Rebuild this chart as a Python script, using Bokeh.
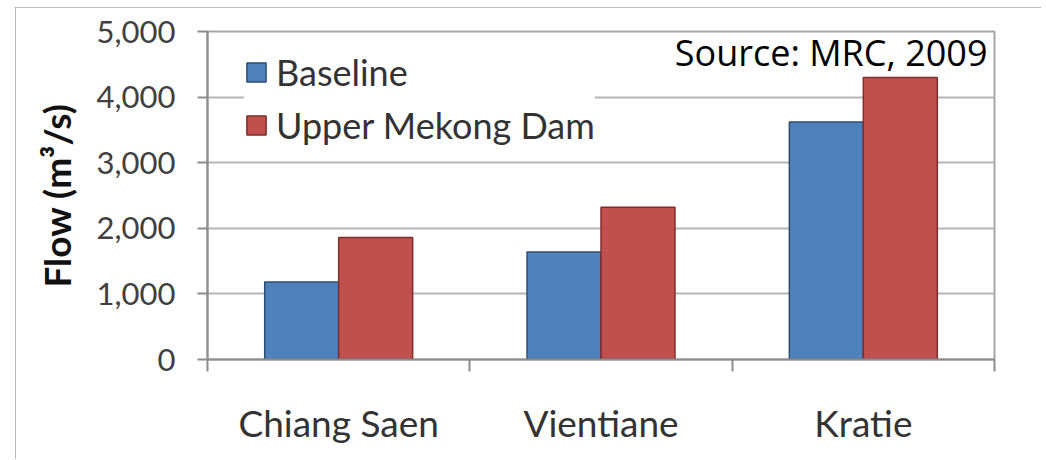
from bokeh.plotting import figure
from bokeh.models import (FactorRange, Range1d, LinearAxis, CategoricalAxis, FixedTicker,
                          NumeralTickFormatter, Legend, LegendItem, Label,
                          ColumnDataSource)
from bokeh.transform import dodge
from bokeh.embed import file_html
from bokeh.resources import INLINE

categories = ["Chiang Saen", "Vientiane", "Kratie"]
baseline = [1180, 1640, 3620]
upper_dam = [1860, 2320, 4300]
y_ticks = [0, 1000, 2000, 3000, 4000, 5000]
series_names = ["Baseline", "Upper Mekong Dam"]
source_note = "Source: MRC, 2009"

src = ColumnDataSource(dict(cat=categories, base=baseline, dam=upper_dam))

p = figure(width=1026, height=452,
           x_range=FactorRange(*categories), y_range=Range1d(0, 5000),
           output_backend="svg", toolbar_location=None, x_axis_location=None,
           min_border_left=192, min_border_right=47, min_border_top=24, min_border_bottom=100,
           styles={"margin-left": "15px", "margin-top": "7px",
                   "outline": "2px solid #a6a6a6", "outline-offset": "-2px"})
p.background_fill_color = "white"
p.border_fill_color = "white"
p.outline_line_color = "#a6a6a6"
p.outline_line_width = 2

# bars
r1 = p.vbar(x=dodge("cat", -0.141, range=p.x_range), top="base", width=0.282, source=src,
            fill_color="#4F81BD", line_color="#2f4d72", line_width=1.5)
r2 = p.vbar(x=dodge("cat", 0.141, range=p.x_range), top="dam", width=0.282, source=src,
            fill_color="#C0504D", line_color="#7d2e2c", line_width=1.5)

# y axis
ya = p.yaxis[0]
ya.ticker = FixedTicker(ticks=y_ticks)
ya.formatter = NumeralTickFormatter(format="0,0")
ya.major_label_text_font = "Lato"
ya.major_label_text_font_size = "31px"
ya.major_label_text_color = "#404040"
ya.major_tick_out = 10
ya.major_tick_in = 0
ya.major_label_standoff = 22
ya.minor_tick_line_color = None
ya.axis_line_color = "#8c8c8c"
ya.axis_line_width = 2
ya.major_tick_line_color = "#8c8c8c"
ya.major_tick_line_width = 2
ya.axis_label = "Flow (m³/s)"
ya.axis_label_text_font = "Lato"
ya.axis_label_text_font_style = "bold"
ya.axis_label_text_font_size = "37px"
ya.axis_label_text_color = "#111111"
ya.axis_label_standoff = 15

p.ygrid.ticker = FixedTicker(ticks=y_ticks)
p.ygrid.grid_line_color = "#b5b5b5"
p.ygrid.grid_line_width = 2
p.xgrid.visible = False

# boundary ticks axis (synthetic coordinates of the factor range)
tick_axis = LinearAxis(ticker=FixedTicker(ticks=list(range(len(categories) + 1))),
                       major_tick_out=12, major_tick_in=0,
                       major_tick_line_color="#8c8c8c", major_tick_line_width=2,
                       axis_line_color="#8c8c8c", axis_line_width=2,
                       minor_tick_line_color=None,
                       major_label_text_font_size="1px", major_label_text_alpha=0,
                       major_label_standoff=0)
p.add_layout(tick_axis, "below")

cat_axis = CategoricalAxis(axis_line_color=None, major_tick_line_color=None,
                           minor_tick_line_color=None,
                           major_label_text_font="Lato", major_label_text_font_size="37px",
                           major_label_text_color="#333333", major_label_standoff=22)
p.add_layout(cat_axis, "below")

legend = Legend(items=[LegendItem(label=series_names[0], renderers=[r1]),
                       LegendItem(label=series_names[1], renderers=[r2])],
                location=(37, 212), padding=18, spacing=9, margin=0,
                glyph_width=24, glyph_height=24, label_standoff=8,
                label_text_font="Lato", label_text_font_size="36px",
                label_text_color="#333333",
                background_fill_color="white", background_fill_alpha=1.0,
                border_line_color=None)
p.add_layout(legend)

p.add_layout(Label(x=780, y=307, x_units="screen", y_units="screen", text=source_note,
                   text_align="right", text_baseline="alphabetic",
                   text_font="Open Sans", text_font_size="36px", text_color="black"))

open("out.html", "w").write(file_html(p, INLINE))
